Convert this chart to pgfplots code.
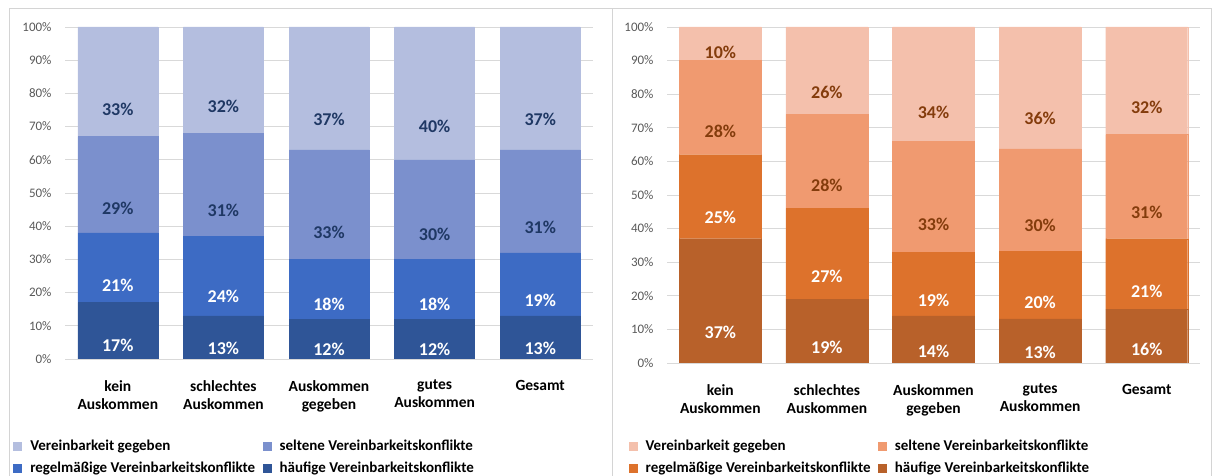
\documentclass[border=0pt]{standalone}
\usepackage{pgfplots}
\usepackage{pgfplotstable}
\usepackage{fontspec}
\setmainfont{Carlito}
\pgfplotsset{compat=1.18}

\definecolor{gridgray}{HTML}{D9D9D9}
\definecolor{framegray}{HTML}{D4D4D4}
\definecolor{ticktext}{HTML}{595959}
\definecolor{bA}{HTML}{B4BEDF}
\definecolor{bB}{HTML}{7B90CD}
\definecolor{bC}{HTML}{3D6BC4}
\definecolor{bD}{HTML}{2F5597}
\definecolor{bLab}{HTML}{1F3864}
\definecolor{oA}{HTML}{F4C0AC}
\definecolor{oB}{HTML}{F09A70}
\definecolor{oC}{HTML}{DD722C}
\definecolor{oD}{HTML}{B8612A}
\definecolor{oLab}{HTML}{843C0C}

% x: 0 kein, 1 schlechtes, 2 gegeben, 3 gutes, 4 Gesamt
% hf = haeufig, rg = regelmaessig, sl = selten, vg = Vereinbarkeit gegeben
\pgfplotstableread{
x  hf  rg  sl  vg
0  17  21  29  33
1  13  24  31  32
2  12  18  33  37
3  12  18  30  40
4  13  19  31  37
}\leftdata
\pgfplotstableread{
x  hf    rg    sl    vg
0  37    25    28    10
1  19    27    28    26
2  14    19    33    34
3  13.1  20.2  30.4  36.3
4  16    21    31    32
}\rightdata

\pgfplotsset{
  panel/.style={
    scale only axis, anchor=south west,
    ybar stacked,
    xmin=-0.5, xmax=4.5, ymin=0, ymax=100,
    xtick={0,...,4},
    xticklabels={kein\\Auskommen, schlechtes\\Auskommen, Auskommen\\gegeben, gutes\\Auskommen, Gesamt},
    ytick={0,10,...,100},
    yticklabel={\pgfmathprintnumber{\tick}\%},
    /pgf/number format/assume math mode=true,
    ymajorgrids, major grid style={gridgray, line width=0.9bp},
    axis line style={draw=none},
    major tick length=0pt,
    yticklabel style={font=\fontsize{13bp}{15bp}\selectfont, text=ticktext, xshift=-10bp},
    xticklabel style={font=\bfseries\fontsize{15.5bp}{18bp}\selectfont, align=center, inner sep=0pt, yshift=-21bp},
    nodes near coords={\pgfmathprintnumber[fixed,precision=0]{\pgfplotspointmeta}\%},
    every node near coord/.append style={font=\bfseries\fontsize{18bp}{20bp}\selectfont, anchor=center, yshift=-\segval*\halfunit},
    legend columns=2, reverse legend, legend cell align=left,
    legend style={draw=none, fill=none, font=\bfseries\fontsize{15bp}{17bp}\selectfont, inner sep=0pt,
      nodes={inner sep=3.5bp, text height=11bp, text depth=4bp},
      /tikz/every odd column/.append style={column sep=5bp},
      /tikz/every even column/.append style={column sep=4bp}},
    legend image code/.code={\fill[##1] (0bp,-3.5bp) rectangle (8bp,4.5bp);},
  },
  seg/.style n args={3}{fill=#1, draw=#1, line width=0.3bp, point meta=\thisrow{#2},
    visualization depends on={\thisrow{#2}\as\segval},
    every node near coord/.append style={text=#3}},
}

\begin{document}
\begin{tikzpicture}
\path[use as bounding box] (0,0) rectangle (1213bp,476bp);
\draw[framegray, line width=1bp] (9bp,-5bp) -- (9bp,467bp) -- (1211bp,467bp) -- (1211bp,-5bp);
\draw[framegray, line width=1bp] (612bp,-5bp) -- (612bp,467bp);

% the node shift is applied twice, so a quarter of the unit length
\def\halfunit{0.83bp}
\begin{axis}[panel, at={(65bp,117bp)}, width=528bp, height=332bp, bar width=80bp,
  legend style={at={(-0.098,-0.23)}, anchor=north west}]
\addplot[seg={bD}{hf}{white}] table[x=x, y=hf] {\leftdata};
\addlegendentry{häufige Vereinbarkeitskonflikte}
\addplot[seg={bC}{rg}{white}] table[x=x, y=rg] {\leftdata};
\addlegendentry{regelmäßige Vereinbarkeitskonflikte}
\addplot[seg={bB}{sl}{bLab}] table[x=x, y=sl] {\leftdata};
\addlegendentry{seltene Vereinbarkeitskonflikte}
\addplot[seg={bA}{vg}{bLab}] table[x=x, y=vg] {\leftdata};
\addlegendentry{Vereinbarkeit gegeben}
\end{axis}

\def\halfunit{0.84bp}
\begin{axis}[panel, at={(667bp,113bp)}, width=533bp, height=336bp, bar width=82bp,
  legend style={at={(-0.072,-0.216)}, anchor=north west}]
\addplot[seg={oD}{hf}{white}] table[x=x, y=hf] {\rightdata};
\addlegendentry{häufige Vereinbarkeitskonflikte}
\addplot[seg={oC}{rg}{white}] table[x=x, y=rg] {\rightdata};
\addlegendentry{regelmäßige Vereinbarkeitskonflikte}
\addplot[seg={oB}{sl}{oLab}] table[x=x, y=sl] {\rightdata};
\addlegendentry{seltene Vereinbarkeitskonflikte}
\addplot[seg={oA}{vg}{oLab}] table[x=x, y=vg] {\rightdata};
\addlegendentry{Vereinbarkeit gegeben}
\end{axis}
\end{tikzpicture}
\end{document}
